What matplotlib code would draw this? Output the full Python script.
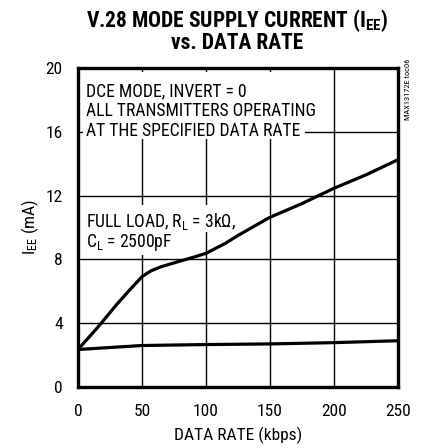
import matplotlib
matplotlib.use("Agg")
import matplotlib.pyplot as plt
from matplotlib import font_manager
from matplotlib.patches import Rectangle

# condensed sans, like the datasheet font
names = {f.name for f in font_manager.fontManager.ttflist}
family = next(f for f in ['Roboto Condensed', 'Archivo Narrow', 'PT Sans Narrow', 'Liberation Sans']
              if f in names)
plt.rcParams['font.family'] = [family, 'DejaVu Sans']
plt.rcParams['mathtext.fontset'] = 'custom'
plt.rcParams['mathtext.rm'] = family
plt.rcParams['mathtext.it'] = family
plt.rcParams['mathtext.bf'] = family + ':bold'

# Data
rate = [0, 15, 30, 40, 50, 57, 65, 80, 90, 100, 115, 125, 150, 175, 200, 225, 250]
full_load = [2.35, 3.7, 5.15, 6.05, 6.92, 7.28, 7.54, 7.9, 8.13, 8.38, 9.0, 9.5, 10.64, 11.5, 12.46, 13.3, 14.25]
no_load_rate = [0, 50, 100, 150, 200, 250]
no_load = [2.35, 2.6, 2.66, 2.7, 2.78, 2.9]

xticks = [0, 50, 100, 150, 200, 250]
yticks = [0, 4, 8, 12, 16, 20]

note1 = ["DCE MODE, INVERT = 0", "ALL TRANSMITTERS OPERATING", "AT THE SPECIFIED DATA RATE"]
note1_y = [18.24, 16.99, 15.74]
note2 = ["FULL LOAD, R$_\\mathrm{L}$ = 3k\u03a9,", "C$_\\mathrm{L}$ = 2500pF"]
note2_y = [10.0, 8.78]

fig = plt.figure(figsize=(4.22, 4.48), dpi=100)
ax = fig.add_axes([0.1848, 0.1362, 0.7583, 0.712])

ax.plot(rate, full_load, color='black', lw=2.3, zorder=3, solid_capstyle='round', solid_joinstyle='round')
ax.plot(no_load_rate, no_load, color='black', lw=2.3, zorder=3, solid_joinstyle='round')

ax.set_xlim(0, 250)
ax.set_ylim(0, 20)
ax.set_xticks(xticks)
ax.set_yticks(yticks)
ax.tick_params(length=0, labelsize=12.5)
ax.tick_params(axis='x', pad=12)
ax.tick_params(axis='y', pad=11)
ax.set_axisbelow(True)
ax.grid(True, color='black', lw=1.0)
for s in ax.spines.values():
    s.set_linewidth(2.4)

# white patches behind the notes
ax.add_patch(Rectangle((4, 15.55), 173, 4.2, facecolor='white', edgecolor='none', zorder=1.5))
ax.add_patch(Rectangle((4, 9.7), 121, 1.7, facecolor='white', edgecolor='none', zorder=1.5))
ax.add_patch(Rectangle((4, 8.3), 72, 1.45, facecolor='white', edgecolor='none', zorder=1.5))

for t, y in zip(note1, note1_y):
    ax.text(6.5, y, t, fontsize=12.7, va='baseline', ha='left', zorder=2)
for t, y in zip(note2, note2_y):
    ax.text(6.5, y, t, fontsize=12.7, va='baseline', ha='left', zorder=2)

ax.set_xlabel("DATA RATE (kbps)", fontsize=12.5, labelpad=6)
ax.set_ylabel("I$_\\mathrm{EE}$ (mA)", fontsize=12.5, labelpad=3)

fig.text(0.563, 0.955, "V.28 MODE SUPPLY CURRENT (I$_\\mathbf{EE}$)", fontsize=15.5,
         fontweight='bold', ha='center', va='center')
fig.text(0.563, 0.903, "vs. DATA RATE", fontsize=15.5, fontweight='bold', ha='center', va='center')
fig.text(0.967, 0.80, "MAX13172E toc06", fontsize=6, rotation=90, ha='center', va='center')

fig.savefig("out.png", dpi=100)
